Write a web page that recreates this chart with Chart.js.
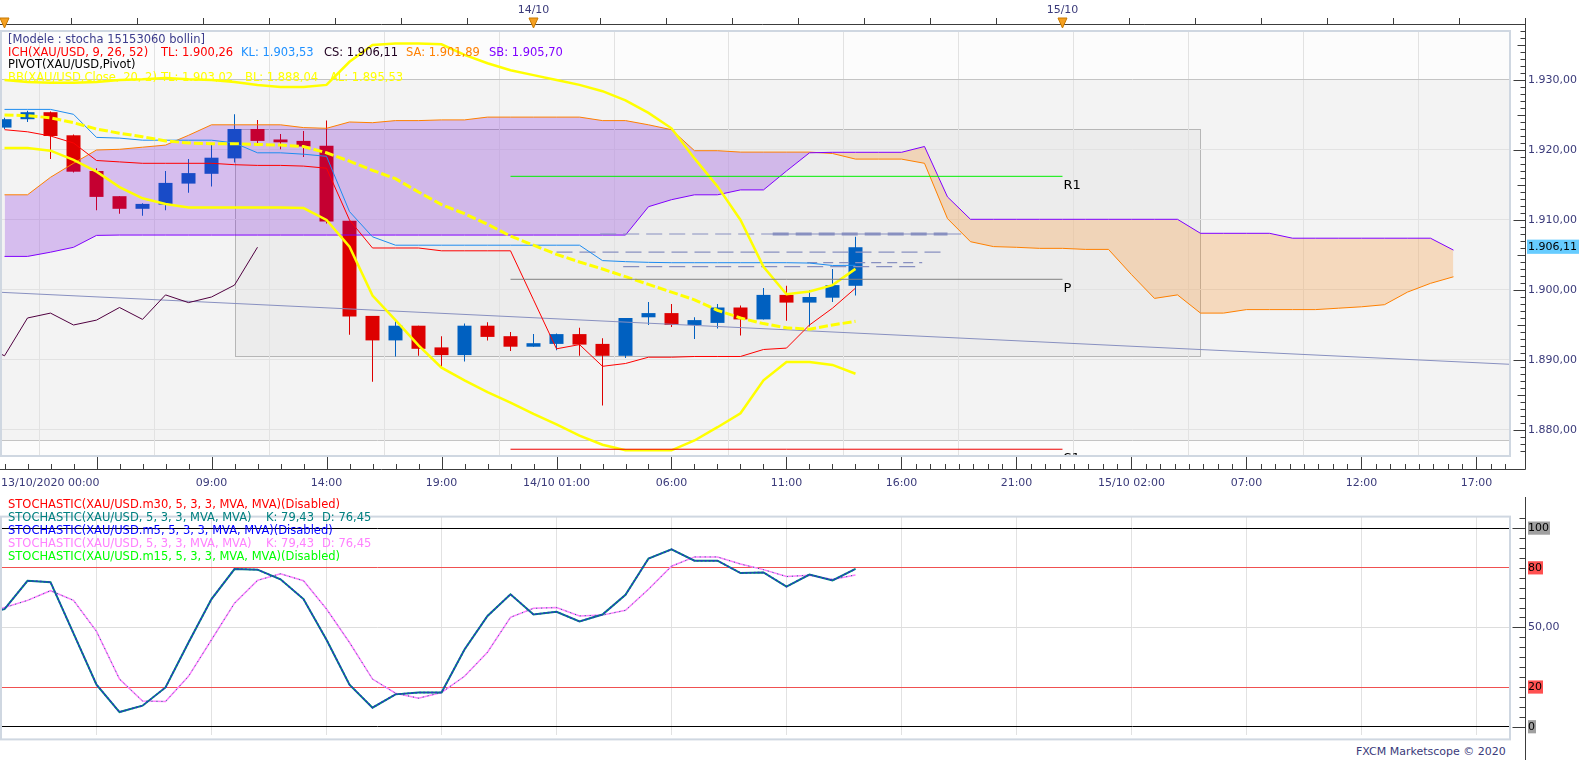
<!DOCTYPE html>
<html><head><meta charset="utf-8">
<script src="https://cdn.jsdelivr.net/npm/chart.js@4.4.1/dist/chart.umd.min.js"></script>
<style>
html,body{margin:0;padding:0;background:#fff;}
#wrap{position:relative;width:1583px;height:760px;overflow:hidden;font-family:'DejaVu Sans',sans-serif;font-size:11.5px;}
canvas{position:absolute;left:0;}
#c1{top:0;} #c2{top:492px;}
.t{position:absolute;white-space:pre;line-height:13px;}
</style></head><body>
<div id="wrap">
<canvas id="c1" width="1583" height="492"></canvas>
<canvas id="c2" width="1583" height="268"></canvas>

<div class="t" style="left:8px;top:33px;color:#3c3c8c">[Modele : stocha 15153060 bollin]</div>
<div class="t" style="left:8px;top:46px;color:#ff0000">ICH(XAU/USD, 9, 26, 52)</div>
<div class="t" style="left:161px;top:46px;color:#ff0000">TL: 1.900,26</div>
<div class="t" style="left:241px;top:46px;color:#1e90ff">KL: 1.903,53</div>
<div class="t" style="left:324px;top:46px;color:#200020">CS: 1.906,11</div>
<div class="t" style="left:406px;top:46px;color:#ff8000">SA: 1.901,89</div>
<div class="t" style="left:489px;top:46px;color:#8000ff">SB: 1.905,70</div>
<div class="t" style="left:8px;top:58px;color:#000">PIVOT(XAU/USD,Pivot)</div>
<div class="t" style="left:8px;top:71px;color:#ffff00">BB(XAU/USD,Close, 20, 2)</div>
<div class="t" style="left:161px;top:71px;color:#ffff00">TL: 1.903,02</div>
<div class="t" style="left:245px;top:71px;color:#ffff00">BL: 1.888,04</div>
<div class="t" style="left:330px;top:71px;color:#ffff00">AL: 1.895,53</div>

<div class="t" style="left:8px;top:498px;color:#ff0000">STOCHASTIC(XAU/USD.m30, 5, 3, 3, MVA, MVA)(Disabled)</div>
<div class="t" style="left:8px;top:511px;color:#008080">STOCHASTIC(XAU/USD, 5, 3, 3, MVA, MVA)</div>
<div class="t" style="left:266px;top:511px;color:#008080">K: 79,43</div>
<div class="t" style="left:322px;top:511px;color:#008080">D: 76,45</div>
<div class="t" style="left:8px;top:524px;color:#0000ff">STOCHASTIC(XAU/USD.m5, 5, 3, 3, MVA, MVA)(Disabled)</div>
<div class="t" style="left:8px;top:537px;color:#ff80ff">STOCHASTIC(XAU/USD, 5, 3, 3, MVA, MVA)</div>
<div class="t" style="left:266px;top:537px;color:#ff80ff">K: 79,43</div>
<div class="t" style="left:322px;top:537px;color:#ff80ff">D: 76,45</div>
<div class="t" style="left:8px;top:550px;color:#00ff00">STOCHASTIC(XAU/USD.m15, 5, 3, 3, MVA, MVA)(Disabled)</div>
<div class="t" style="left:1354px;top:745px;color:#3a3a7a;background:#fff;padding:0 2px;font-size:11px">FXCM Marketscope © 2020</div>
</div>
<script>
// ================= DATA =================
const xTickIdx = [0, 9, 14, 19, 24, 29, 34, 39, 44, 49, 54, 59, 64];
const xTickLabels = ['13/10/2020 00:00','09:00','14:00','19:00','14/10 01:00','06:00','11:00','16:00','21:00','15/10 02:00','07:00','12:00','17:00'];
const xMajorIdx = [4, 9, 14, 19, 24, 29, 34, 39, 44, 49, 54, 59, 64];
const dayIdx = [0, 23, 46];
const dayLabels = ['', '14/10', '15/10'];
const priceTicks = [1880, 1890, 1900, 1910, 1920, 1930];
const stochTicks = [0, 20, 50, 80, 100];
const stochTickLabels = ['0', '20', '50,00', '80', '100'];

const open  = [1923.2,1924.4,1925.4,1922.1,1917.0,1913.4,1911.6,1912.2,1915.2,1916.6,1918.8,1923.0,1921.5,1921.3,1920.6,1909.9,1896.3,1892.8,1894.9,1891.8,1890.7,1894.9,1893.4,1891.9,1892.3,1893.7,1892.3,1890.6,1896.1,1896.7,1895.0,1895.3,1897.5,1895.8,1899.3,1898.2,1898.9,1900.6];
const high  = [1924.6,1925.6,1925.5,1922.2,1917.4,1913.4,1912.4,1917.0,1918.7,1920.7,1925.1,1924.3,1922.3,1922.7,1924.2,1909.9,1896.3,1895.6,1894.9,1893.4,1895.2,1895.4,1894.0,1893.7,1893.8,1894.6,1893.1,1896.0,1898.3,1898.0,1896.1,1898.0,1897.8,1900.3,1900.6,1900.0,1903.0,1907.6];
const low   = [1923.0,1924.0,1918.7,1916.8,1911.4,1910.9,1910.6,1911.4,1913.9,1914.8,1918.2,1920.9,1920.1,1919.0,1909.5,1893.6,1886.9,1890.5,1890.6,1889.0,1889.8,1892.8,1891.3,1891.9,1891.4,1890.6,1883.5,1890.3,1895.0,1894.7,1893.0,1894.5,1893.5,1895.8,1895.6,1894.8,1898.3,1899.2];
const close = [1924.4,1925.4,1922.0,1916.9,1913.3,1911.6,1912.3,1915.3,1916.7,1918.9,1923.0,1921.3,1921.1,1920.5,1909.8,1896.2,1892.8,1894.9,1891.6,1890.7,1894.9,1893.3,1891.9,1892.4,1893.7,1892.2,1890.6,1896.0,1896.7,1895.0,1895.7,1897.5,1895.8,1899.3,1898.2,1899.0,1900.7,1906.11];

const tenkan = [1922.9,1922.6,1922.0,1921.0,1918.5,1918.3,1918.1,1918.1,1918.1,1918.1,1917.9,1917.8,1917.8,1917.7,1917.4,1910.0,1906.0,1906.0,1906.0,1905.6,1905.6,1905.6,1905.6,1898.6,1891.6,1892.2,1889.1,1889.5,1890.4,1890.4,1890.5,1890.5,1890.5,1891.5,1891.7,1895.0,1897.4,1900.26];
const kijun  = [1925.8,1925.8,1925.8,1925.1,1921.8,1921.7,1921.4,1921.4,1921.4,1921.4,1921.0,1919.6,1919.6,1919.4,1919.1,1911.2,1907.6,1906.4,1906.4,1906.4,1906.4,1906.4,1906.4,1906.4,1906.4,1906.4,1904.2,1904.05,1903.95,1903.9,1903.9,1903.9,1903.9,1903.9,1903.9,1903.85,1903.5,1903.53];
const chikouIdx = [-1,0,1,2,3,4,5,6,7,8,9,10,11];
const chikou = [1892.2,1890.6,1896.0,1896.7,1895.0,1895.7,1897.5,1895.8,1899.3,1898.2,1899.0,1900.7,1906.11];
const senkouA = [1913.6,1913.6,1916.1,1918.1,1920.0,1920.1,1920.4,1920.7,1922.1,1923.6,1923.6,1923.6,1923.6,1923.2,1923.1,1924.0,1923.9,1924.2,1924.2,1924.3,1924.3,1924.7,1924.7,1924.7,1924.7,1924.7,1924.2,1924.2,1923.6,1922.9,1919.9,1919.9,1919.7,1919.7,1919.7,1919.7,1919.5,1918.7,1918.7,1918.7,1918.1,1910.2,1906.9,1906.2,1906.1,1905.95,1905.95,1905.8,1905.8,1902.2,1898.8,1899.3,1896.7,1896.7,1897.2,1897.2,1897.2,1897.2,1897.4,1897.6,1897.9,1899.7,1900.95,1901.89];
const senkouB = [1904.8,1904.8,1905.4,1906.1,1907.8,1907.85,1907.85,1907.85,1907.85,1907.85,1907.85,1907.85,1907.85,1907.85,1907.85,1907.85,1907.85,1907.85,1907.85,1907.85,1907.85,1907.85,1907.85,1907.85,1907.85,1907.85,1907.85,1907.85,1911.9,1912.9,1913.6,1913.6,1914.3,1914.3,1917.0,1919.6,1919.67,1919.67,1919.67,1919.67,1920.5,1913.3,1910.1,1910.1,1910.1,1910.1,1910.1,1910.1,1910.1,1910.1,1910.1,1910.1,1908.1,1908.1,1908.1,1908.1,1907.4,1907.4,1907.4,1907.4,1907.4,1907.4,1907.4,1905.7];

const bbUpper  = [1930.0,1929.7,1929.6,1929.6,1929.7,1930.0,1930.1,1930.3,1930.1,1930.0,1929.7,1929.3,1929.0,1929.0,1929.3,1932.6,1935.0,1935.2,1935.2,1935.1,1933.6,1932.4,1931.4,1930.7,1930.0,1929.3,1928.4,1927.1,1925.3,1923.1,1918.8,1914.8,1910.0,1903.3,1899.4,1899.8,1900.7,1903.02];
const bbMiddle = [1925.0,1924.9,1924.6,1923.9,1923.0,1922.4,1921.9,1921.3,1921.0,1920.9,1920.9,1920.8,1920.7,1920.5,1919.6,1918.4,1917.1,1915.9,1914.0,1912.2,1910.9,1909.4,1907.7,1906.4,1905.1,1904.0,1903.0,1901.9,1900.8,1899.7,1898.6,1897.1,1896.0,1895.2,1894.6,1894.4,1895.0,1895.53];
const bbLower  = [1920.3,1920.3,1919.9,1918.6,1916.9,1914.7,1913.1,1912.3,1911.8,1911.8,1911.8,1911.8,1911.8,1911.7,1910.0,1906.2,1899.2,1895.7,1892.1,1888.9,1887.1,1885.4,1883.9,1882.3,1880.8,1879.2,1877.9,1877.1,1877.1,1877.1,1878.5,1880.4,1882.4,1887.1,1889.7,1889.7,1889.3,1888.04];

const pivotNames  = ['R1', 'P', 'S1'];
const pivotValues = [1916.24, 1901.53, 1877.25];
const pivotSpan   = [22, 46];
const refLevels = [1908.0, 1908.0, 1905.4, 1903.35, 1903.9];
const refFrom   = [25.9, 33.4, 24.0, 26.9, 34.9];
const refTo     = [41.9, 41.0, 41.0, 39.9, 39.9];
const trendIdx = [-1, 66];
const trendVal = [1899.8, 1889.3];
const rangeBand = [1878.57, 1930.0];
const dayBoxIdx = [10, 52];
const dayBoxVal = [1890.5, 1923.0];

const stochIdx = [-1,0,1,2,3,4,5,6,7,8,9,10,11,12,13,14,15,16,17,18,19,20,21,22,23,24,25,26,27,28,29,30,31,32,33,34,35,36,37];
const stochK = [57.3,59.2,73.5,72.8,47.0,21.2,7.4,10.6,19.8,42.4,64.3,79.4,79.1,74.2,64.3,43.8,21.2,9.6,16.3,17.2,17.2,38.9,55.8,66.7,56.5,57.9,53.0,56.5,66.4,84.7,89.3,83.6,83.6,77.4,77.7,70.6,76.6,73.7,79.43];
const stochD = [57.0,60.0,63.6,68.5,63.6,48.0,24.0,13.0,12.7,25.4,43.8,62.2,73.7,77.0,73.5,59.3,42.4,24.0,16.9,14.4,17.2,25.4,37.5,55.1,59.6,60.0,55.8,56.2,58.6,69.2,80.8,85.5,85.5,81.9,79.1,75.6,76.3,74.2,76.45];

// ================= HELPERS =================
const lastClose = close[close.length - 1];
const candleIdx = close.map((_, i) => i);
const cloudIdx = senkouA.map((_, i) => i);
const xy = (xs, ys) => ys.map((y, i) => ({x: xs[i], y}));
function fmtPrice(v){
  const s = Number(v).toFixed(2).split('.');
  return s[0].replace(/\B(?=(\d{3})+(?!\d))/g, '.') + ',' + s[1];
}
const X_MIN = -0.196, X_MAX = 65.457;
const Y_MIN = 1876.2857, Y_MAX = 1937.0;
const S_MIN = -4.36, S_MAX = 105.8;
const AXIS_X = 1525.5;
const TXT = '#3a3a7a';
const FONT = "11px 'DejaVu Sans', sans-serif";

Chart.defaults.font.family = "'DejaVu Sans', sans-serif";
Chart.defaults.font.size = 11;
Chart.defaults.animation = false;

const UP = '#0060c0', DN = '#dd0000';
const candleColors = close.map((c, i) => c >= open[i] ? UP : DN);

function hline(ctx, x0, x1, y){ ctx.beginPath(); ctx.moveTo(x0, y); ctx.lineTo(x1, y); ctx.stroke(); }
function vline(ctx, x, y0, y1){ ctx.beginPath(); ctx.moveTo(x, y0); ctx.lineTo(x, y1); ctx.stroke(); }

const lineBase = {type:'line', pointRadius:0, borderWidth:1, tension:0, fill:false};

const topDatasets = [
  {type:'bar', data: candleIdx.map(i => ({x:i, y:[low[i], high[i]]})), backgroundColor: candleColors, barThickness:1, grouped:false, borderWidth:0, inflateAmount:0, order:30},
  {type:'bar', data: candleIdx.map(i => ({x:i, y:[open[i], close[i]]})), backgroundColor: candleColors, barThickness:14, grouped:false, borderWidth:0, inflateAmount:0, order:29},
  {...lineBase, data: xy(cloudIdx, senkouB), borderColor:'#8000ff', order:19},
  {...lineBase, data: xy(cloudIdx, senkouA), borderColor:'#ff8000', order:20,
     fill:{target:2, above:'rgba(112,0,224,0.22)', below:'rgba(255,128,0,0.22)'}},
  {...lineBase, data: xy(trendIdx, trendVal), borderColor:'#8890c0', order:16},
  ...refLevels.map((v, k) => ({...lineBase, data:[{x:refFrom[k], y:v},{x:refTo[k], y:v}], borderColor:'#8890c0',
     borderWidth: k === 1 ? 3 : 1.2, borderDash: k === 4 ? [10,6] : [16,7], order:15})),
  {...lineBase, data: xy(chikouIdx, chikou), borderColor:'#500040', order:13},
  {...lineBase, data: xy(candleIdx, kijun), borderColor:'#1e8cf0', order:12},
  {...lineBase, data: xy(candleIdx, tenkan), borderColor:'#ff0000', order:11},
  {...lineBase, data: xy(candleIdx, bbLower), borderColor:'#ffff00', borderWidth:2.5, order:10},
  {...lineBase, data: xy(candleIdx, bbUpper), borderColor:'#ffff00', borderWidth:2.5, order:9},
  {...lineBase, data: xy(candleIdx, bbMiddle), borderColor:'#ffff00', borderWidth:3, borderDash:[9,3], order:8},
  ...pivotValues.map((v, k) => ({...lineBase, data:[{x:pivotSpan[0], y:v},{x:pivotSpan[1], y:v}],
     borderColor: ['#00ee00','#808080','#ee0000'][k], order:5}))
];

const topPlugin = {
  id:'topDeco',
  beforeDraw(chart){
    const {ctx, chartArea:a, scales:{x, y}} = chart;
    ctx.save();
    ctx.fillStyle = '#fff'; ctx.fillRect(0, 0, chart.width, chart.height);
    ctx.fillStyle = '#fcfcfc'; ctx.fillRect(a.left, a.top, a.width, a.height);
    const bT = y.getPixelForValue(rangeBand[1]), bB = y.getPixelForValue(rangeBand[0]);
    ctx.fillStyle = '#f3f3f3'; ctx.fillRect(a.left, bT, a.width, bB - bT);
    ctx.strokeStyle = '#c4c4c4'; ctx.lineWidth = 1;
    hline(ctx, a.left, a.right, Math.round(bB) + 0.5);
    const x0 = Math.round(x.getPixelForValue(dayBoxIdx[0])) + 0.5, x1 = Math.round(x.getPixelForValue(dayBoxIdx[1])) + 0.5;
    const y0 = Math.round(y.getPixelForValue(dayBoxVal[1])) + 0.5, y1 = Math.round(y.getPixelForValue(dayBoxVal[0])) + 0.5;
    ctx.fillStyle = '#ececec'; ctx.fillRect(x0, y0, x1 - x0, y1 - y0);
    ctx.strokeStyle = '#b6b6b6'; ctx.strokeRect(x0, y0, x1 - x0, y1 - y0);
    ctx.restore();
  },
  afterDatasetsDraw(chart){
    const {ctx, chartArea:a, scales:{x, y}} = chart;
    ctx.save();
    ctx.beginPath(); ctx.rect(a.left, a.top, a.width, a.height); ctx.clip();
    ctx.fillStyle = '#000'; ctx.font = "13px 'DejaVu Sans', sans-serif"; ctx.textBaseline = 'top'; ctx.textAlign = 'left';
    pivotValues.forEach((v, k) => ctx.fillText(pivotNames[k], x.getPixelForValue(pivotSpan[1]) + 1, y.getPixelForValue(v) + 3));
    ctx.restore();
  },
  afterDraw(chart){
    const {ctx, chartArea:a, scales:{x, y}} = chart;
    ctx.save();
    ctx.strokeStyle = '#cfd7e1'; ctx.lineWidth = 2;
    ctx.strokeRect(a.left + 1, a.top, a.width - 1, a.height);
    ctx.strokeStyle = '#3c3c3c'; ctx.lineWidth = 1;
    vline(ctx, AXIS_X, 18, 469.5);
    hline(ctx, 0, AXIS_X, 469.5);
    hline(ctx, 0, AXIS_X, 24.5);
    for (let p = Math.ceil(Y_MIN); p <= Y_MAX; p++) {
      const py = Math.round(y.getPixelForValue(p)) + 0.5;
      const len = p % 10 === 0 ? 12 : (p % 5 === 0 ? 8 : 5);
      hline(ctx, AXIS_X - len, AXIS_X, py);
    }
    const tick = (v, major) => {
      const px = Math.round(x.getPixelForValue(v)) + 0.5;
      vline(ctx, px, major ? 457 : 464, 469.5);
    };
    for (let v = 0; v <= 39; v++) tick(v, xMajorIdx.includes(v));
    for (let k = 1; 39 + k * 0.625 <= X_MAX; k++) tick(39 + k * 0.625, k % 8 === 0);
    for (let k = 0; k * 23 / 8 <= X_MAX; k++) {
      const px = Math.round(x.getPixelForValue(k * 23 / 8)) + 0.5;
      vline(ctx, px, 18, 24.5);
    }
    dayIdx.forEach((d, k) => {
      const px = x.getPixelForValue(d);
      ctx.beginPath(); ctx.moveTo(px - 4.5, 18); ctx.lineTo(px + 4.5, 18); ctx.lineTo(px, 28); ctx.closePath();
      ctx.fillStyle = '#f5a020'; ctx.fill(); ctx.strokeStyle = '#c87800'; ctx.stroke();
      if (dayLabels[k]) {
        ctx.fillStyle = TXT; ctx.font = FONT; ctx.textAlign = 'center'; ctx.textBaseline = 'middle';
        ctx.fillText(dayLabels[k], px, 10);
      }
    });
    ctx.fillStyle = TXT; ctx.font = FONT; ctx.textBaseline = 'middle';
    xTickIdx.forEach((v, k) => {
      const px = x.getPixelForValue(v);
      if (k === 0) { ctx.textAlign = 'left'; ctx.fillText(xTickLabels[k], 1, 483); }
      else { ctx.textAlign = 'center'; ctx.fillText(xTickLabels[k], px, 483); }
    });
    ctx.restore();
  }
};

new Chart(document.getElementById('c1'), {
  type:'bar',
  data:{datasets: topDatasets},
  options:{
    responsive:false, animation:false, events:[],
    layout:{padding:{top:31, left:0, right:0, bottom:0}},
    plugins:{legend:{display:false}, tooltip:{enabled:false}},
    scales:{
      x:{type:'linear', min:X_MIN, max:X_MAX, offset:false, position:'bottom',
         border:{display:false}, ticks:{display:false},
         grid:{color:'#e2e2e2', drawTicks:false},
         afterBuildTicks: s => { s.ticks = xMajorIdx.map(v => ({value:v})); },
         afterFit: s => { s.height = 36; }},
      y:{type:'linear', position:'right', min:Y_MIN, max:Y_MAX,
         border:{display:false},
         grid:{drawTicks:false, color: c => c.tick && c.tick.value === lastClose ? 'rgba(0,0,0,0)' : (c.tick && c.tick.value === rangeBand[1] ? '#c4c4c4' : '#e2e2e2')},
         afterBuildTicks: s => { s.ticks = priceTicks.concat([lastClose]).map(v => ({value:v})); },
         afterFit: s => { s.width = 73; },
         ticks:{autoSkip:false, padding:18, callback: v => fmtPrice(v),
           color: c => c.tick && c.tick.value === lastClose ? '#000' : TXT,
           showLabelBackdrop:true,
           backdropColor: c => c.tick && c.tick.value === lastClose ? '#66ccff' : 'rgba(0,0,0,0)',
           backdropPadding:{top:1, bottom:0, left:1, right:2}}}
    }
  },
  plugins:[topPlugin]
});

// ================= STOCHASTIC PANEL =================
const stochGrid = {0:'#000000', 20:'#f05050', 50:'#dddddd', 80:'#f05050', 100:'#000000'};
const stochBack = {0:'#a0a0a0', 20:'#ff5050', 50:'rgba(0,0,0,0)', 80:'#ff5050', 100:'#a0a0a0'};

const botPlugin = {
  id:'botDeco',
  beforeDraw(chart){
    const {ctx} = chart;
    ctx.save(); ctx.fillStyle = '#fff'; ctx.fillRect(0, 0, chart.width, chart.height); ctx.restore();
  },
  afterDraw(chart){
    const {ctx, chartArea:a, scales:{y}} = chart;
    ctx.save();
    ctx.strokeStyle = '#cfd7e1'; ctx.lineWidth = 2;
    ctx.strokeRect(a.left + 1, a.top, a.width - 1, a.height + 4);
    ctx.strokeStyle = '#3c3c3c'; ctx.lineWidth = 1;
    vline(ctx, AXIS_X, 5, chart.height);
    for (let v = 0; v <= 105; v += 5) {
      const py = Math.round(y.getPixelForValue(v)) + 0.5;
      hline(ctx, AXIS_X - (v % 50 === 0 ? 13 : 6), AXIS_X, py);
    }
    ctx.restore();
  }
};

new Chart(document.getElementById('c2'), {
  type:'line',
  data:{datasets:[
    {...lineBase, data: xy(stochIdx, stochD), borderColor:'#ff80ff', borderWidth:1.5, order:4},
    {...lineBase, data: xy(stochIdx, stochD), borderColor:'#008080', borderWidth:1, borderDash:[1,4], order:3},
    {...lineBase, data: xy(stochIdx, stochK), borderColor:'#008080', borderWidth:2, order:2},
    {...lineBase, data: xy(stochIdx, stochK), borderColor:'#3030c8', borderWidth:1.5, borderDash:[2,2], order:1}
  ]},
  options:{
    responsive:false, animation:false, events:[],
    layout:{padding:{top:5, left:0, right:0, bottom:0}},
    plugins:{legend:{display:false}, tooltip:{enabled:false}},
    scales:{
      x:{type:'linear', min:X_MIN, max:X_MAX, offset:false, position:'bottom',
         border:{display:false}, ticks:{display:false},
         grid:{color:'#e2e2e2', drawTicks:false},
         afterBuildTicks: s => { s.ticks = xMajorIdx.map(v => ({value:v})); },
         afterFit: s => { s.height = 3; }},
      y:{type:'linear', position:'right', min:S_MIN, max:S_MAX,
         border:{display:false},
         grid:{drawTicks:false, color: c => c.tick ? stochGrid[c.tick.value] : '#ddd'},
         afterBuildTicks: s => { s.ticks = stochTicks.map(v => ({value:v})); },
         afterFit: s => { s.width = 73; },
         ticks:{autoSkip:false, padding:18,
           callback: (v) => stochTickLabels[stochTicks.indexOf(v)],
           color: c => c.tick && c.tick.value === 50 ? TXT : '#000',
           showLabelBackdrop:true,
           backdropColor: c => c.tick ? stochBack[c.tick.value] : 'rgba(0,0,0,0)',
           backdropPadding:{top:0, bottom:0, left:0, right:1}}}
    }
  },
  plugins:[botPlugin]
});
</script>
</body></html>
